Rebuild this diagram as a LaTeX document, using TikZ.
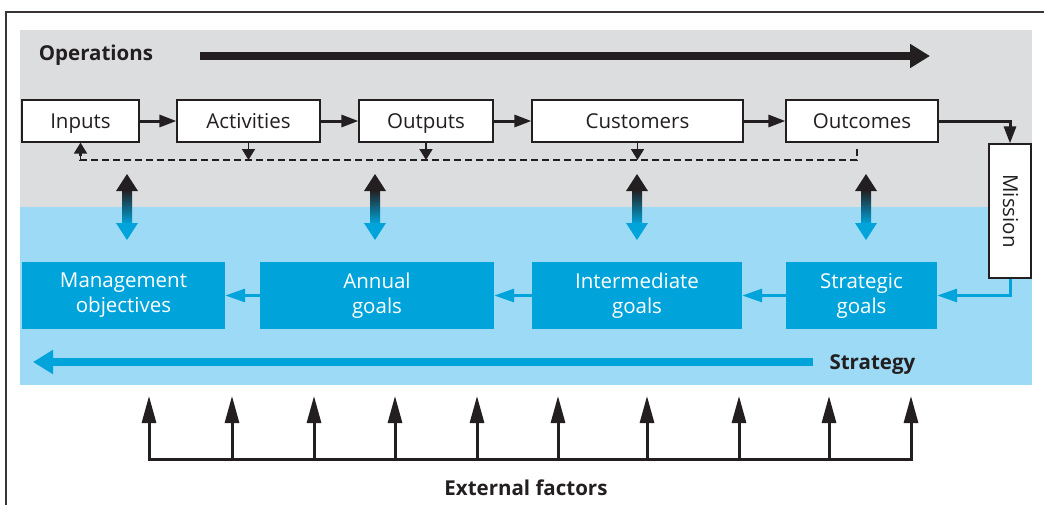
\documentclass[tikz,border=0pt]{standalone}
\usepackage{fontspec}
\setmainfont{Open Sans}
\usetikzlibrary{arrows.meta}
\definecolor{opgray}{RGB}{220,221,223}
\definecolor{stratbg}{RGB}{157,218,246}
\definecolor{goalblue}{RGB}{0,164,218}
\definecolor{ink}{RGB}{35,31,32}

\begin{document}
\begin{tikzpicture}[x=1pt,y=-1pt,
        every node/.style={font=\fontsize{20.5}{25}\selectfont,align=center,text=ink},
        opbox/.style={draw=ink,line width=1.2pt,fill=white,minimum height=42pt,inner sep=0pt,
            text height=15.5pt,text depth=1.5pt},
        goalbox/.style={fill=goalblue,text=white,minimum height=67pt,inner sep=0pt},
        bigtitle/.style={font=\fontsize{20.5}{25}\selectfont\bfseries},
        flow/.style={draw=ink,line width=3pt,-{Triangle[length=17pt,width=12pt]}},
        backflow/.style={draw=goalblue,line width=3pt,-{Triangle[length=20pt,width=13pt]}},
        feedback/.style={draw=ink,line width=2.6pt,dash pattern=on 7pt off 4pt},
        fbtip/.style={draw=ink,line width=1.8pt,-{Triangle[length=11pt,width=13pt]}},
        extarrow/.style={draw=ink,line width=3pt,-{Triangle[length=27pt,width=14pt]}}]
    \useasboundingbox (0,0) rectangle (1044,504);
    % frame and the two bands
    \draw[ink!90,line width=2pt] (6,506) -- (6,12) -- (1046,12);
    \fill[opgray] (20,30) rectangle (1032,207);
    \fill[stratbg] (20,207) rectangle (1032,385);
    % operations row
    \node[bigtitle] (opslbl) at (96,55) {Operations};
    \coordinate (opsstart) at (200,56);
    \coordinate (opsend) at (930,56);
    \draw[ink,line width=8pt,-{Triangle[length=20pt,width=23pt]}] (opsstart) -- (opsend);
    \node[opbox,minimum width=117pt] (inp) at (80.5,121) {Inputs};
    \node[opbox,minimum width=143pt] (act) at (248.5,121) {Activities};
    \node[opbox,minimum width=134pt] (outp) at (426,121) {Outputs};
    \node[opbox,minimum width=211pt] (cust) at (637.5,121) {Customers};
    \node[opbox,minimum width=152pt] (outc) at (862,121) {Outcomes};
    \node[opbox,rotate=-90,minimum width=134pt] (mis) at (1010,211) {Mission};
    \draw[flow] (inp) -- (act);
    \draw[flow] (act) -- (outp);
    \draw[flow] (outp) -- (cust);
    \draw[flow] (cust) -- (outc);
    \draw[flow] (outc.east) -| (mis.west);
    % feedback line
    \coordinate (fbleft) at (80.5,160);
    \coordinate (fbright) at (857,160);
    \coordinate (fbstub) at (857,149);
    \draw[feedback] (fbstub) -- (fbright) -- (fbleft) -- (80.5,152);
    \draw[fbtip] (fbleft) -- (inp.south);
    \draw[fbtip] (act.south) -- (act.south |- fbleft);
    \draw[fbtip] (outp.south) -- (outp.south |- fbleft);
    \draw[fbtip] (cust.south) -- (cust.south |- fbleft);
    % links between the bands
    \foreach \x in {127,375,637,866}{
        \fill[ink] (\x-11,191) -- (\x,174) -- (\x+11,191) -- cycle;
        \shade[top color=ink,bottom color=goalblue] (\x-5,190) rectangle (\x+5,224);
        \fill[goalblue] (\x-11,223) -- (\x,240) -- (\x+11,223) -- cycle;
    }
    % strategy row
    \node[goalbox,minimum width=203pt] (mgmt) at (123.5,295.5) {Management\\objectives};
    \node[goalbox,minimum width=234pt] (ann) at (377,295.5) {Annual\\goals};
    \node[goalbox,minimum width=210pt] (inter) at (637,295.5) {Intermediate\\goals};
    \node[goalbox,minimum width=151pt] (strat) at (861.5,295.5) {Strategic\\goals};
    \draw[backflow] (mis.east) |- (strat.east);
    \draw[backflow] (strat) -- (inter);
    \draw[backflow] (inter) -- (ann);
    \draw[backflow] (ann) -- (mgmt);
    \node[bigtitle,anchor=west] (stratlbl) at (826,365) {Strategy};
    \coordinate (stratstart) at (813,362);
    \coordinate (stratend) at (33,362);
    \draw[goalblue,line width=8pt,-{Triangle[length=20pt,width=23pt]}] (stratstart) -- (stratend);
    % external factors
    \node[bigtitle] (extlbl) at (526,488) {External factors};
    \draw[ink,line width=3pt] (149,459) -- (911,459);
    \foreach \x in {149,232,314,395,477,558,647,739,829,911}
        \draw[extarrow] (\x,460.5) -- (\x,396);
\end{tikzpicture}
\end{document}
